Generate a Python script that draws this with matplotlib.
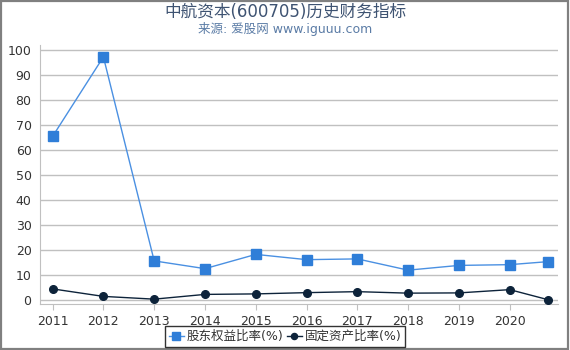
import matplotlib
matplotlib.use('Agg')
import matplotlib.pyplot as plt
from matplotlib.patches import Rectangle

plt.rcParams['font.family'] = ['DejaVu Sans', 'Noto Sans CJK SC']

# data
years = [2011, 2012, 2013, 2014, 2015, 2016, 2017, 2018, 2019, 2020, 2020.75]
equity_ratio = [65.5, 97.3, 15.7, 12.6, 18.3, 16.2, 16.5, 12.0, 13.9, 14.2, 15.4]
fixed_asset_ratio = [4.5, 1.5, 0.4, 2.3, 2.5, 3.0, 3.4, 2.8, 2.9, 4.2, 0.2]
tick_years = [2011, 2012, 2013, 2014, 2015, 2016, 2017, 2018, 2019, 2020]
y_ticks = [0, 10, 20, 30, 40, 50, 60, 70, 80, 90, 100]

title = '中航资本(600705)历史财务指标'
subtitle = '来源: 爱股网 www.iguuu.com'
label_equity = '股东权益比率(%)'
label_fixed = '固定资产比率(%)'

fig = plt.figure(figsize=(5.7, 3.5), dpi=100)
ax = fig.add_axes([0.070, 0.131, 0.909, 0.740])

ax.plot(years, equity_ratio, color='#4a90e2', linewidth=1, marker='s',
        markersize=6.5, markerfacecolor='#2f7ed8', markeredgecolor='#2f7ed8',
        label=label_equity, zorder=3)
ax.plot(years, fixed_asset_ratio, color='#0d233a', linewidth=1, marker='o',
        markersize=5.5, markerfacecolor='#0d233a', markeredgecolor='#0d233a',
        label=label_fixed, zorder=3)

ax.set_xlim(2010.75, 2020.95)
ax.set_ylim(-1.6, 102)
ax.set_xticks(tick_years)
ax.set_xticklabels([str(y) for y in tick_years])
ax.set_yticks(y_ticks)
ax.yaxis.grid(True, color='#c0c0c0', linewidth=1)
ax.set_axisbelow(True)

for side in ['top', 'right']:
    ax.spines[side].set_visible(False)
for side in ['left', 'bottom']:
    ax.spines[side].set_color('#c0c0c0')
ax.tick_params(axis='both', labelsize=9, colors='#333333', length=4)
ax.tick_params(axis='x', color='#c0c0c0')
ax.tick_params(axis='y', length=0, pad=6)

fig.text(0.5, 0.967, title, ha='center', va='center', fontsize=12,
         color='#3e5372', family=['DejaVu Sans', 'Noto Sans CJK SC'])
fig.text(0.5, 0.918, subtitle, ha='center', va='center', fontsize=9,
         color='#5b7ca6', family=['DejaVu Sans', 'Noto Sans CJK SC'])

leg = fig.legend(loc='center', bbox_to_anchor=(0.5, 0.038), ncol=2,
                 frameon=True, fancybox=False, handlelength=1.2,
                 handletextpad=0.2, columnspacing=0.3, borderpad=0.3,
                 borderaxespad=0.0, markerscale=0.8,
                 prop={'family': ['DejaVu Sans', 'Noto Sans CJK SC'], 'size': 9})
leg.get_frame().set_edgecolor('black')
leg.get_frame().set_linewidth(1)
for t in leg.get_texts():
    t.set_color('#333333')

# outer border
fig.patches.append(Rectangle((0.002, 0.003), 0.994, 0.995, transform=fig.transFigure,
                             fill=False, edgecolor='#808080', linewidth=1.6))

plt.savefig('out.png', dpi=100)
plt.close()
